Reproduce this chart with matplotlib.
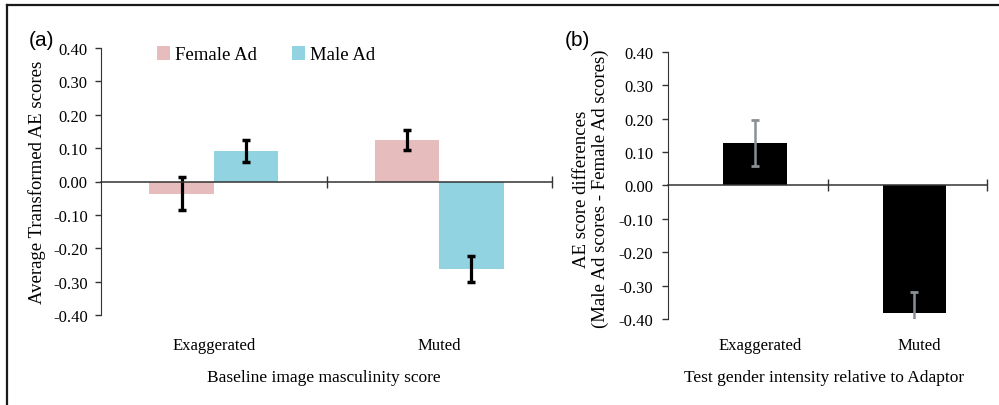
import matplotlib
matplotlib.use('Agg')

import matplotlib.pyplot as plt
import matplotlib.ticker as mtick
from matplotlib.lines import Line2D
import numpy as np

categories = ['Exaggerated', 'Muted']
series_names = ['Female Ad', 'Male Ad']
female_scores = [-0.036, 0.124]
female_err = [0.049, 0.029]
male_scores = [0.091, -0.262]
male_err = [0.033, 0.038]
diff_scores = [0.127, -0.382]
diff_err = [0.070, 0.063]
y_ticks = [-0.40, -0.30, -0.20, -0.10, 0.00, 0.10, 0.20, 0.30, 0.40]

plt.rcParams['font.family'] = ['Liberation Serif', 'DejaVu Serif']

PINK = '#e6bdbc'
BLUE = '#92d3e2'


def style_axis(ax, tick_pad):
    ax.spines['top'].set_visible(False)
    ax.spines['right'].set_visible(False)
    ax.spines['left'].set_color('#333333')
    ax.spines['bottom'].set_color('#333333')
    ax.spines['bottom'].set_linewidth(1.1)
    ax.spines['bottom'].set_position(('data', 0))
    ax.set_ylim(-0.4, 0.4)
    ax.set_yticks(y_ticks)
    ax.yaxis.set_major_formatter(mtick.FuncFormatter(lambda v, p: '%.2f' % v))
    ax.tick_params(axis='y', direction='out', length=4, width=1, color='#333333',
                   labelsize=12, pad=tick_pad)
    ax.tick_params(axis='x', direction='inout', length=8, width=1, color='#333333',
                   labelbottom=False)


fig = plt.figure(figsize=(9.99, 4.06), dpi=100)

# (a) grouped bars
ax1 = fig.add_axes([101 / 999, 90 / 406, 451 / 999, 267 / 406])
x = np.arange(len(categories))
w = 0.286
ax1.bar(x - w / 2, female_scores, w, color=PINK, label=series_names[0])
ax1.bar(x + w / 2, male_scores, w, color=BLUE, label=series_names[1])
ax1.errorbar(x - w / 2, female_scores, yerr=female_err, fmt='none', ecolor='black',
             elinewidth=2.3, capsize=3.2, capthick=2.5)
ax1.errorbar(x + w / 2, male_scores, yerr=male_err, fmt='none', ecolor='black',
             elinewidth=2.3, capsize=3.2, capthick=2.5)
ax1.set_xlim(-0.5, 1.5)
ax1.set_xticks([0.5, 1.5])
style_axis(ax1, 5.5)
for i, c in enumerate(categories):
    ax1.text(i, -0.112, c, transform=ax1.get_xaxis_transform(), ha='center', va='center', fontsize=12)
ax1.text(0.494, -0.231, 'Baseline image masculinity score', transform=ax1.transAxes,
         ha='center', va='center', fontsize=12.5)
ax1.set_ylabel('Average Transformed AE scores', fontsize=13.5)
ax1.yaxis.label.set_va('center')
ax1.yaxis.set_label_coords(-0.142, 0.5)
ax1.legend(loc='upper left', bbox_to_anchor=(157 / 999, 1 - 47 / 406),
           bbox_transform=fig.transFigure, ncol=2, frameon=False, fontsize=13.5,
           borderpad=0, borderaxespad=0, handlelength=0.7, handleheight=0.75,
           handletextpad=0.25, columnspacing=1.9)

# (b) difference bars
ax2 = fig.add_axes([668 / 999, 86 / 406, 319 / 999, 267.3 / 406])
ax2.bar(x, diff_scores, 0.40, color='black')
ax2.errorbar(x, diff_scores, yerr=diff_err, fmt='none', ecolor='#8a8f95',
             elinewidth=1.8, capsize=3, capthick=2)
ax2.set_xlim(-0.545, 1.455)
ax2.set_xticks([0.455, 1.455])
style_axis(ax2, 6.5)
for i, c in enumerate(categories):
    ax2.text(i + 0.03, -0.096, c, transform=ax2.get_xaxis_transform(), ha='center', va='center', fontsize=12)
ax2.text(0.49, -0.216, 'Test gender intensity relative to Adaptor', transform=ax2.transAxes,
         ha='center', va='center', fontsize=12.5)
ax2.set_ylabel('AE score differences\n(Male Ad scores - Female Ad scores)', fontsize=13.5,
               linespacing=1.1)
ax2.yaxis.label.set_va('center')
ax2.yaxis.set_label_coords(-0.241, 0.49)

# panel letters
fig.text(41 / 999, 1 - 40 / 406, '(a)', fontsize=15, family=['Liberation Sans', 'DejaVu Sans'],
         ha='center', va='center')
fig.text(577 / 999, 1 - 40 / 406, '(b)', fontsize=15, family=['Liberation Sans', 'DejaVu Sans'],
         ha='center', va='center')

# outer frame (top and left only)
fig.add_artist(Line2D([6.5 / 999, 1.0], [1 - 5.5 / 406, 1 - 5.5 / 406], transform=fig.transFigure,
                      color='#1a1a1a', linewidth=1.6))
fig.add_artist(Line2D([6.5 / 999, 6.5 / 999], [0.0, 1 - 5.5 / 406], transform=fig.transFigure,
                      color='#1a1a1a', linewidth=1.6))

fig.savefig('out.png', dpi=100)
